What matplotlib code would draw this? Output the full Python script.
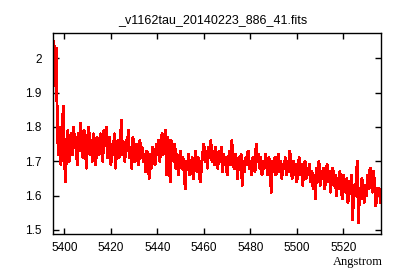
import numpy as np
import matplotlib
matplotlib.use("Agg")
import matplotlib.pyplot as plt

title = "_v1162tau_20140223_886_41.fits"
xlabel = "Angstrom"

# spectrum sampled every 0.5 Angstrom starting at 5395.5
wave_start = 5395.5
wave_step = 0.5
flux = [
    2.05, 1.92, 2.03, 1.78, 1.72, 1.80, 1.69, 1.77, 1.86, 1.71, 1.64, 1.76, 1.79, 1.70, 1.75, 1.78, 1.72, 1.80, 1.74, 1.77,
    1.69, 1.78, 1.73, 1.81, 1.75, 1.71, 1.79, 1.74, 1.68, 1.77, 1.80, 1.72, 1.76, 1.70, 1.78, 1.74, 1.69, 1.77, 1.75, 1.72,
    1.78, 1.73, 1.70, 1.79, 1.76, 1.80, 1.71, 1.74, 1.77, 1.69, 1.75, 1.72, 1.78, 1.68, 1.74, 1.76, 1.71, 1.73, 1.82, 1.72,
    1.75, 1.70, 1.76, 1.73, 1.79, 1.71, 1.74, 1.68, 1.77, 1.72, 1.70, 1.75, 1.73, 1.69, 1.76, 1.71, 1.74, 1.70, 1.72, 1.67,
    1.73, 1.70, 1.65, 1.72, 1.68, 1.74, 1.71, 1.69, 1.75, 1.72, 1.76, 1.70, 1.74, 1.78, 1.72, 1.75, 1.79, 1.66, 1.77, 1.73,
    1.64, 1.76, 1.74, 1.70, 1.75, 1.68, 1.72, 1.66, 1.70, 1.73, 1.68, 1.71, 1.67, 1.62, 1.70, 1.68, 1.72, 1.66, 1.69, 1.71,
    1.65, 1.70, 1.73, 1.67, 1.71, 1.66, 1.64, 1.69, 1.72, 1.75, 1.70, 1.73, 1.68, 1.74, 1.71, 1.76, 1.70, 1.73, 1.69, 1.74,
    1.71, 1.68, 1.73, 1.70, 1.74, 1.67, 1.72, 1.69, 1.71, 1.66, 1.70, 1.73, 1.69, 1.76, 1.71, 1.68, 1.72, 1.70, 1.65, 1.71,
    1.68, 1.72, 1.63, 1.70, 1.67, 1.71, 1.69, 1.73, 1.68, 1.70, 1.66, 1.71, 1.69, 1.67, 1.75, 1.70, 1.72, 1.68, 1.71, 1.66,
    1.70, 1.68, 1.72, 1.69, 1.66, 1.71, 1.67, 1.61, 1.70, 1.68, 1.71, 1.66, 1.69, 1.72, 1.67, 1.70, 1.65, 1.69, 1.68, 1.71,
    1.66, 1.70, 1.67, 1.73, 1.68, 1.65, 1.70, 1.66, 1.69, 1.64, 1.68, 1.71, 1.66, 1.69, 1.63, 1.67, 1.70, 1.65, 1.68, 1.66,
    1.69, 1.64, 1.67, 1.62, 1.66, 1.59, 1.68, 1.65, 1.70, 1.63, 1.67, 1.65, 1.68, 1.62, 1.66, 1.69, 1.64, 1.67, 1.61, 1.66,
    1.68, 1.63, 1.66, 1.60, 1.65, 1.62, 1.67, 1.64, 1.59, 1.66, 1.63, 1.61, 1.65, 1.58, 1.64, 1.62, 1.66, 1.53, 1.63, 1.60,
    1.64, 1.70, 1.52, 1.62, 1.59, 1.65, 1.61, 1.58, 1.63, 1.60, 1.66, 1.62, 1.68, 1.64, 1.61, 1.67, 1.63, 1.57, 1.62, 1.60,
    1.62, 1.58, 1.60,
]
wave = wave_start + wave_step * np.arange(len(flux))

xticks = [5400, 5420, 5440, 5460, 5480, 5500, 5520]
yticks = [1.5, 1.6, 1.7, 1.8, 1.9, 2.0]
ytick_labels = ["1.5", "1.6", "1.7", "1.8", "1.9", "2"]

fig = plt.figure(figsize=(4, 2.8), dpi=100)
ax = fig.add_axes([0.1325, 0.1643, 0.82, 0.7179])
ax.plot(wave, flux, color="red", lw=1.4, antialiased=False)

ax.set_xlim(5395.1, 5536.2)
ax.set_ylim(1.488, 2.074)
ax.set_xticks(xticks)
ax.set_xticklabels([str(t) for t in xticks])
ax.set_yticks(yticks)
ax.set_yticklabels(ytick_labels)
ax.tick_params(direction="in", length=4, width=1, top=True, right=True,
               labelsize=8.5, colors="black")
ax.tick_params(axis="x", pad=6)
ax.tick_params(axis="y", pad=8)
for lab in ax.get_xticklabels() + ax.get_yticklabels():
    lab.set_family("Liberation Sans")
for s in ax.spines.values():
    s.set_linewidth(1.0)

fig.text(0.533, 0.929, title, ha="center", va="center",
         family="Liberation Sans", fontsize=9)
fig.text(0.957, 0.064, xlabel, ha="right", va="center",
         family="Liberation Serif", fontsize=9)

fig.savefig("out.png", dpi=100)
